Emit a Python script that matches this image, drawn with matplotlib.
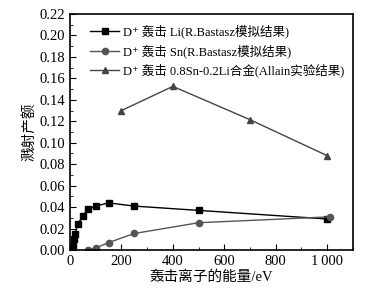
import numpy as np
import matplotlib.pyplot as plt
from matplotlib.ticker import MultipleLocator, FuncFormatter

FONTS = ['Liberation Serif', 'DejaVu Serif', 'Noto Sans CJK SC']
plt.rcParams['font.family'] = FONTS

li_x = [10, 15, 20, 30, 50, 70, 100, 150, 250, 500, 1000]
li_y = [0.004, 0.010, 0.015, 0.024, 0.032, 0.038, 0.041, 0.044, 0.041, 0.037, 0.029]
sn_x = [70, 100, 150, 250, 500, 1010]
sn_y = [0.000, 0.002, 0.007, 0.0155, 0.0255, 0.031]
alloy_x = [200, 400, 700, 1000]
alloy_y = [0.130, 0.1525, 0.1215, 0.088]

labels = ['D\u207a 轰击 Li(R.Bastasz模拟结果)',
          'D\u207a 轰击 Sn(R.Bastasz模拟结果)',
          'D\u207a 轰击 0.8Sn-0.2Li合金(Allain实验结果)']

fig = plt.figure(figsize=(3.89, 2.96), dpi=100)
ax = fig.add_axes([0.18, 0.155, 0.727, 0.798])

ax.plot(li_x, li_y, '-s', color='black', lw=1, ms=4.5, label=labels[0])
ax.plot(sn_x, sn_y, '-o', color='#555555', lw=1, ms=4.5, label=labels[1])
ax.plot(alloy_x, alloy_y, '-^', color='#444444', lw=1, ms=5, label=labels[2])

ax.set_xlim(0, 1100)
ax.set_ylim(0, 0.22)
ax.xaxis.set_major_locator(MultipleLocator(200))
ax.xaxis.set_minor_locator(MultipleLocator(100))
ax.yaxis.set_major_locator(MultipleLocator(0.02))
ax.yaxis.set_minor_locator(MultipleLocator(0.01))
ax.xaxis.set_major_formatter(FuncFormatter(
    lambda v, p: '1\u2009000' if v == 1000 else f'{v:.0f}'))
ax.yaxis.set_major_formatter(FuncFormatter(lambda v, p: f'{v:.2f}'))
ax.tick_params(which='both', direction='in', labelsize=10.5)
ax.tick_params(which='major', length=4)
ax.tick_params(which='minor', length=2)
for s in ax.spines.values():
    s.set_linewidth(1.2)

ax.set_xlabel('轰击离子的能量/eV', fontsize=10.5, labelpad=2)
ax.set_ylabel('溅射产额', fontsize=10.5, labelpad=2)
ax.legend(loc='upper left', bbox_to_anchor=(0.045, 0.985), frameon=False,
          fontsize=9.0, handlelength=2.3, borderaxespad=0.2,
          labelspacing=0.45, handletextpad=0.35)

fig.savefig('out.png', dpi=100)
